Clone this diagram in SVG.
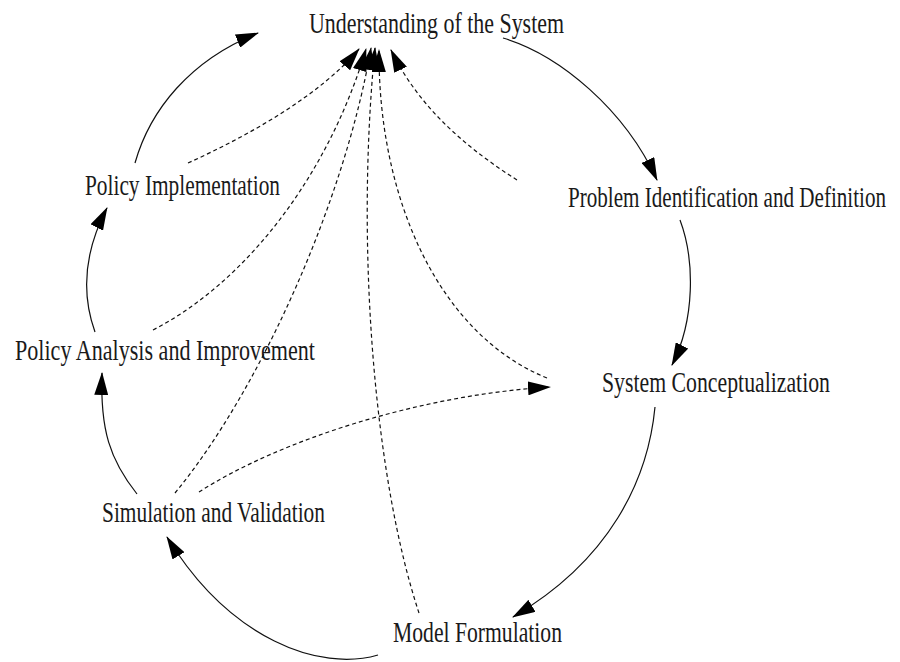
<svg xmlns="http://www.w3.org/2000/svg" width="900" height="662" viewBox="0 0 900 662">
  <style>
    .label { font-family: "Liberation Serif", "Times New Roman", serif; font-size: 29px; fill: #1a1a1a; }
    .flow { fill: none; stroke: #111; stroke-width: 1.2; marker-end: url(#head); }
    .feedback { fill: none; stroke: #111; stroke-width: 1.2; stroke-dasharray: 4 3; marker-end: url(#head); }
  </style>
  <defs>
    <marker id="head" markerUnits="userSpaceOnUse" markerWidth="23" markerHeight="14" refX="22" refY="7" orient="auto">
      <path d="M0,0 L23,7 L0,14 z" fill="#000"/>
    </marker>
  </defs>
  <rect width="900" height="662" fill="#fff"/>

  <!-- connectors -->
  <g id="connectors">
    <!-- main cycle -->
    <path class="flow" d="M503,38 C560,55 625,110 657,180"/>
    <path class="flow" d="M680,220 C695,260 695,320 672,365"/>
    <path class="flow" d="M655,407 C648,480 610,560 513,617"/>
    <path class="flow" d="M378,655 C320,672 230,640 167,537"/>
    <path class="flow" d="M137,494 C110,460 100,430 102,373"/>
    <path class="flow" d="M95,332 C80,290 85,250 107,208"/>
    <path class="flow" d="M135,163 C150,110 190,60 258,33"/>

    <!-- feedback links -->
    <path class="feedback" d="M188,163 C250,135 320,95 359,49"/>
    <path class="feedback" d="M153,330 C250,280 330,170 366,49"/>
    <path class="feedback" d="M175,493 C260,390 345,200 371,48"/>
    <path class="feedback" d="M419,613 C375,480 355,250 375,48"/>
    <path class="feedback" d="M547,378 C440,335 378,200 379,50"/>
    <path class="feedback" d="M517,180 C470,150 420,110 391,50"/>
    <path class="feedback" d="M199,492 C280,440 420,395 550,387"/>
  </g>

  <!-- nodes -->
  <g id="understanding"><text class="label" x="309" y="33" textLength="255" lengthAdjust="spacingAndGlyphs">Understanding of the System</text></g>
  <g id="problem"><text class="label" x="568" y="207" textLength="318" lengthAdjust="spacingAndGlyphs">Problem Identification and Definition</text></g>
  <g id="conceptualization"><text class="label" x="602" y="392" textLength="228" lengthAdjust="spacingAndGlyphs">System Conceptualization</text></g>
  <g id="formulation"><text class="label" x="393" y="642" textLength="169" lengthAdjust="spacingAndGlyphs">Model Formulation</text></g>
  <g id="simulation"><text class="label" x="102" y="522" textLength="223" lengthAdjust="spacingAndGlyphs">Simulation and Validation</text></g>
  <g id="analysis"><text class="label" x="15" y="360" textLength="300" lengthAdjust="spacingAndGlyphs">Policy Analysis and Improvement</text></g>
  <g id="implementation"><text class="label" x="85" y="195" textLength="195" lengthAdjust="spacingAndGlyphs">Policy Implementation</text></g>
</svg>
